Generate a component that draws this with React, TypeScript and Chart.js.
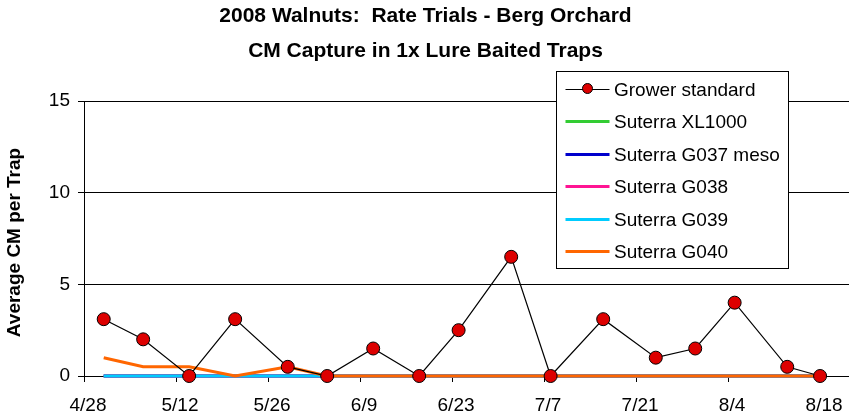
import { useEffect, useRef } from 'react';
import { Chart, registerables } from 'chart.js';

Chart.register(...registerables);

// Days after 4/28/2008 on which traps were checked
const sampleDays = [3, 9, 16, 23, 31, 37, 44, 51, 57, 65, 71, 79, 87, 93, 99, 107, 112];
const growerStandard = [3.1, 2.0, 0, 3.1, 0.5, 0, 1.5, 0, 2.5, 6.5, 0, 3.1, 1.0, 1.5, 4.0, 0.5, 0];
const suterraXL1000 = [0, 0, 0, 0, 0, 0, 0, 0, 0, 0, 0, 0, 0, 0, 0, 0, 0];
const suterraG037 = [0, 0, 0, 0, 0, 0, 0, 0, 0, 0, 0, 0, 0, 0, 0, 0, 0];
const suterraG038 = [0, 0, 0, 0, 0, 0, 0, 0, 0, 0, 0, 0, 0, 0, 0, 0, 0];
const suterraG039 = [0, 0, 0, 0, 0, 0, 0, 0, 0, 0, 0, 0, 0, 0, 0, 0, 0];
const suterraG040 = [1.0, 0.5, 0.5, 0, 0.5, 0, 0, 0, 0, 0, 0, 0, 0, 0, 0, 0, 0];

const seriesLabels = [
  'Grower standard',
  'Suterra XL1000',
  'Suterra G037 meso',
  'Suterra G038',
  'Suterra G039',
  'Suterra G040',
];
const seriesColors = ['#000000', '#33CC33', '#0000CC', '#FF1493', '#00CCFF', '#FF6600'];

const xTickDays = [0, 14, 28, 42, 56, 70, 84, 98, 112];
const yTicks = [0, 5, 10, 15];
const titleLines = ['2008 Walnuts:  Rate Trials - Berg Orchard', 'CM Capture in 1x Lure Baited Traps'];
const yAxisTitle = 'Average CM per Trap';

const FONT = '"Liberation Sans", Arial, sans-serif';

function dayLabel(v: number): string {
  const d = new Date(2008, 3, 28 + Math.round(v));
  return `${d.getMonth() + 1}/${d.getDate()}`;
}

const decorPlugin = {
  id: 'decor',
  afterDraw(chart: any) {
    const ctx = chart.ctx as CanvasRenderingContext2D;
    const area = chart.chartArea;
    ctx.save();
    // Title
    ctx.fillStyle = '#000';
    ctx.font = `bold 21px ${FONT}`;
    ctx.textAlign = 'center';
    ctx.textBaseline = 'alphabetic';
    const cx = chart.width / 2 + 1;
    ctx.fillText(titleLines[0], cx, 22);
    ctx.fillText(titleLines[1], cx, 57);

    // Y axis title
    ctx.save();
    ctx.translate(15, (area.top + area.bottom) / 2 + 4);
    ctx.rotate(-Math.PI / 2);
    ctx.font = `bold 19px ${FONT}`;
    ctx.textAlign = 'center';
    ctx.textBaseline = 'middle';
    ctx.fillText(yAxisTitle, 0, 0);
    ctx.restore();

    // Legend box
    const bx = area.left + 472.5;
    const by = 71.5;
    const bw = 232;
    const bh = 197;
    ctx.fillStyle = '#fff';
    ctx.fillRect(bx, by, bw, bh);
    ctx.strokeStyle = '#000';
    ctx.lineWidth = 1;
    ctx.strokeRect(bx, by, bw, bh);

    ctx.font = `19px ${FONT}`;
    ctx.textAlign = 'left';
    ctx.textBaseline = 'alphabetic';
    chart.data.datasets.forEach((ds: any, i: number) => {
      const cy = 88.5 + i * 32.5;
      const lx1 = bx + 9;
      const lx2 = bx + 53;
      ctx.strokeStyle = ds.borderColor;
      ctx.lineWidth = ds.borderWidth;
      ctx.beginPath();
      ctx.moveTo(lx1, Math.round(cy) + 0.5);
      ctx.lineTo(lx2, Math.round(cy) + 0.5);
      ctx.stroke();
      if (ds.pointRadius > 0) {
        ctx.beginPath();
        ctx.arc((lx1 + lx2) / 2, cy, 5, 0, Math.PI * 2);
        ctx.fillStyle = ds.pointBackgroundColor;
        ctx.fill();
        ctx.lineWidth = 1;
        ctx.strokeStyle = '#000';
        ctx.stroke();
      }
      ctx.fillStyle = '#000';
      ctx.fillText(ds.label, bx + 57.5, cy + 7);
    });
    ctx.restore();
  },
};

export default function App() {
  const canvasRef = useRef<HTMLCanvasElement | null>(null);

  useEffect(() => {
    if (!canvasRef.current) return;
    const toPts = (vals: number[]) => vals.map((y, i) => ({ x: sampleDays[i], y }));
    const allValues = [growerStandard, suterraXL1000, suterraG037, suterraG038, suterraG039, suterraG040];
    const drawOrder = [0, 5, 4, 3, 2, 1];

    const datasets = allValues.map((vals, i) => ({
      label: seriesLabels[i],
      data: toPts(vals),
      borderColor: seriesColors[i],
      backgroundColor: seriesColors[i],
      borderWidth: i === 0 ? 1.2 : 3,
      pointRadius: i === 0 ? 6.5 : 0,
      pointHoverRadius: i === 0 ? 6.5 : 0,
      pointBackgroundColor: '#DD0000',
      pointBorderColor: '#000000',
      pointBorderWidth: 1,
      tension: 0,
      fill: false,
      clip: false,
      order: drawOrder[i],
    }));

    const chart = new Chart(canvasRef.current, {
      type: 'line',
      data: { datasets },
      options: {
        animation: false,
        responsive: false,
        devicePixelRatio: 1,
        layout: { autoPadding: false, padding: { top: 101, left: 0, right: 0, bottom: 0 } },
        plugins: {
          legend: { display: false },
          title: { display: false },
          tooltip: { enabled: false },
        },
        scales: {
          x: {
            type: 'linear',
            min: 0,
            max: 116.4,
            afterBuildTicks: (scale: any) => {
              scale.ticks = xTickDays.map((v) => ({ value: v }));
            },
            afterFit: (scale: any) => {
              scale.height = 42;
              scale.paddingLeft = 0;
              scale.paddingRight = 0;
            },
            ticks: {
              autoSkip: false,
              maxRotation: 0,
              minRotation: 0,
              color: '#000',
              font: { family: FONT, size: 19 },
              padding: 12,
              labelOffset: 4,
              callback: (v: any) => dayLabel(Number(v)),
            },
            grid: {
              drawOnChartArea: false,
              drawTicks: true,
              tickLength: 6,
              color: '#000',
              lineWidth: 1,
            },
            border: { display: true, color: '#000', width: 1 },
          },
          y: {
            min: 0,
            max: 15,
            afterBuildTicks: (scale: any) => {
              scale.ticks = yTicks.map((v) => ({ value: v }));
            },
            afterFit: (scale: any) => {
              scale.width = 84;
            },
            ticks: {
              color: '#000',
              font: { family: FONT, size: 19 },
              padding: 8,
            },
            grid: {
              color: '#000',
              lineWidth: 1,
              drawTicks: true,
              tickLength: 6,
            },
            border: { display: true, color: '#000', width: 1 },
          },
        },
      },
      plugins: [decorPlugin],
    });
    return () => chart.destroy();
  }, []);

  return (
    <div style={{ position: 'absolute', left: 0, top: 0, width: 849, height: 418, background: '#fff' }}>
      <canvas ref={canvasRef} width={849} height={418} style={{ display: 'block' }} />
    </div>
  );
}
